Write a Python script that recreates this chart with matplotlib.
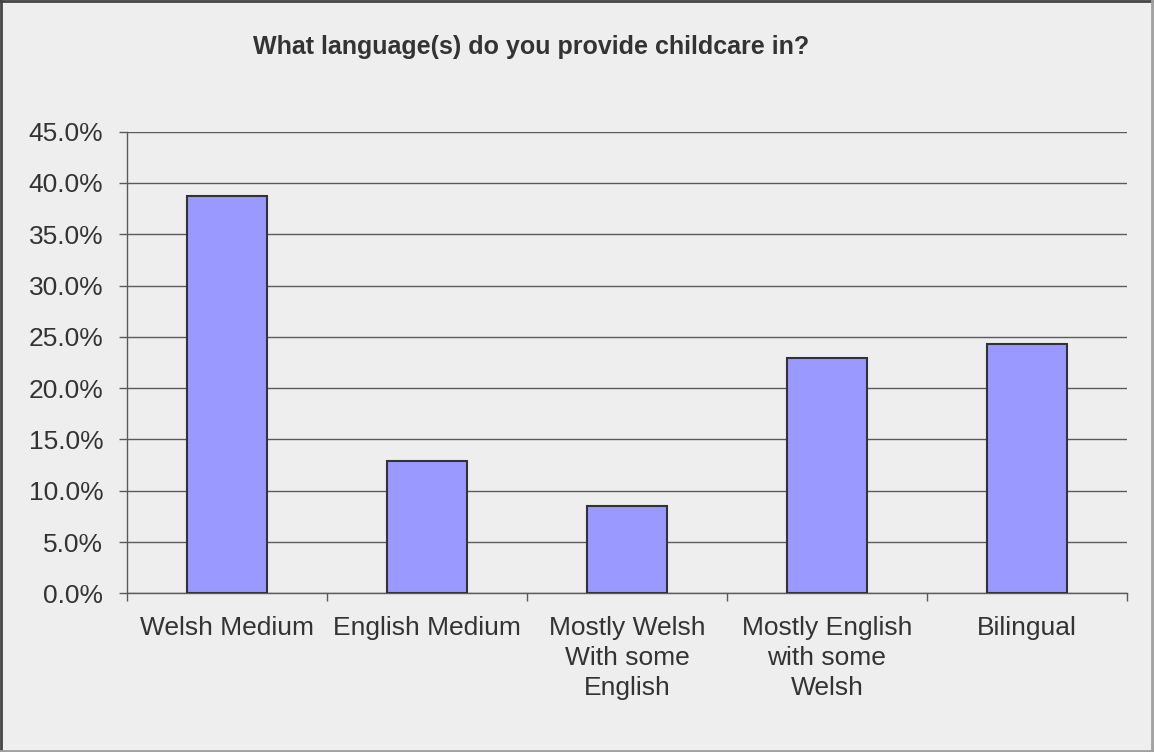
import matplotlib
matplotlib.use("Agg")
import matplotlib.pyplot as plt
from matplotlib.lines import Line2D
from matplotlib.ticker import FuncFormatter, FixedLocator

# Survey responses (share of respondents)
categories = [
    "Welsh Medium",
    "English Medium",
    "Mostly Welsh\nWith some\nEnglish",
    "Mostly English\nwith some\nWelsh",
    "Bilingual",
]
shares = [0.387, 0.129, 0.085, 0.229, 0.243]
y_ticks = [0.00, 0.05, 0.10, 0.15, 0.20, 0.25, 0.30, 0.35, 0.40, 0.45]

plt.rcParams["font.family"] = ["Liberation Sans", "DejaVu Sans"]

bg = "#eeeeee"
text_color = "#333333"
line_color = "#5a5a5a"

fig = plt.figure(figsize=(11.54, 7.52), dpi=100, facecolor=bg)
ax = fig.add_axes([0.110, 0.211, 0.8665, 0.614])
ax.set_facecolor(bg)

x = list(range(len(categories)))
ax.bar(x, shares, width=0.4, color="#9999ff", edgecolor="#333333",
       linewidth=1.5, zorder=3)

ax.set_xlim(-0.5, len(categories) - 0.5)
ax.set_ylim(0, 0.45)

ax.yaxis.set_major_locator(FixedLocator(y_ticks))
ax.yaxis.set_major_formatter(FuncFormatter(lambda v, _: f"{v * 100:.1f}%"))
ax.grid(axis="y", color=line_color, linewidth=1, zorder=0)

ax.set_xticks(x)
ax.set_xticklabels(categories, linespacing=1.33)
ax.set_xticks([i - 0.5 for i in range(len(categories) + 1)], minor=True)

ax.tick_params(axis="x", which="major", length=0, pad=16,
               labelsize=19, labelcolor=text_color)
ax.tick_params(axis="x", which="minor", length=6, width=1,
               color=line_color, direction="out")
ax.tick_params(axis="y", length=6, width=1, color=line_color, pad=11,
               labelsize=19, labelcolor=text_color, direction="out")

for side in ("top", "right"):
    ax.spines[side].set_visible(False)
for side in ("left", "bottom"):
    ax.spines[side].set_color(line_color)
    ax.spines[side].set_linewidth(1)

fig.text(531.5 / 1154, 1 - 47 / 752, "What language(s) do you provide childcare in?",
         ha="center", va="center", fontsize=18, fontweight="bold",
         color=text_color)

# Chart frame: darker top/left edge, lighter bottom/right edge
fig.add_artist(Line2D([0.001, 0.001], [0, 1], transform=fig.transFigure,
                      color="#444444", linewidth=2))
fig.add_artist(Line2D([0, 1], [0.999, 0.999], transform=fig.transFigure,
                      color="#444444", linewidth=2))
fig.add_artist(Line2D([0.9985, 0.9985], [0, 1], transform=fig.transFigure,
                      color="#a0a0a0", linewidth=2))
fig.add_artist(Line2D([0, 1], [0.0015, 0.0015], transform=fig.transFigure,
                      color="#a0a0a0", linewidth=2))

fig.savefig("out.png", dpi=100, facecolor=bg)
